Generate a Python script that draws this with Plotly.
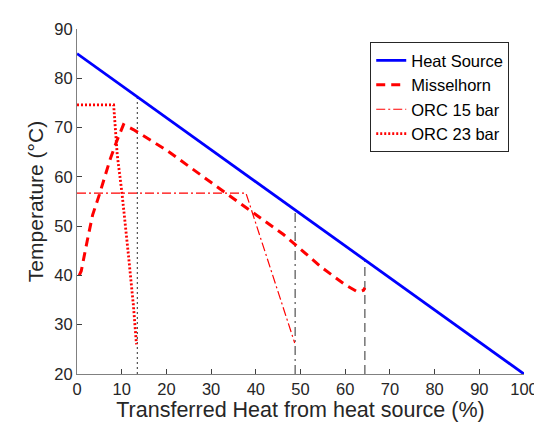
import plotly.graph_objects as go

# Data
hs_x = [0, 100]
hs_y = [85, 20]

mis_x = [0.5, 0.95, 2.26, 3.5, 5.0, 7.5, 9.0, 10.4, 12.6, 19.9, 30.1, 46.2, 54.9, 60.0, 62.5, 63.5, 64.1, 64.4]
mis_y = [40.0, 40.9, 46.9, 52.3, 56.4, 63.8, 67.5, 70.6, 69.6, 65.5, 58.8, 48.3, 41.5, 38.1, 36.8, 36.8, 37.0, 37.5]

orc15_x = [0, 37.8, 48.7]
orc15_y = [56.7, 56.7, 26.3]

orc23_x = [0, 8.2, 9.0, 10.1, 11.5, 12.6, 13.3]
orc23_y = [74.6, 74.6, 64.5, 56.4, 44.2, 34.1, 26.0]

pinch_x = [13.5, 48.8, 64.4]
pinch_dash = ["dot", "dashdot", "dash"]

x_ticks = list(range(0, 101, 10))
y_ticks = list(range(20, 91, 10))

def hs_at(x):
    return hs_y[0] + (hs_y[1] - hs_y[0]) * (x - hs_x[0]) / (hs_x[1] - hs_x[0])

FONT = "Liberation Sans, Arial, Helvetica"

fig = go.Figure()

# gray vertical reference lines (not in legend)
for px, d in zip(pinch_x, pinch_dash):
    fig.add_trace(go.Scatter(x=[px, px], y=[20, hs_at(px)], mode="lines",
                             line=dict(color="rgba(50,50,50,0.85)", width=1.2,
                                       dash=("2px,3px" if d == "dot" else ("9px,4px,2px,4px" if d == "dashdot" else "9px,5px"))),
                             showlegend=False, hoverinfo="skip"))

fig.add_trace(go.Scatter(x=hs_x, y=hs_y, mode="lines", name="Heat Source",
                         line=dict(color="#0000ff", width=2.8)))
fig.add_trace(go.Scatter(x=mis_x, y=mis_y, mode="lines", name="Misselhorn",
                         line=dict(color="#ff0000", width=3, dash="9px,6px")))
fig.add_trace(go.Scatter(x=orc15_x, y=orc15_y, mode="lines", name="ORC 15 bar",
                         line=dict(color="#ff0000", width=1.2, dash="9px,3px,2px,3px")))
fig.add_trace(go.Scatter(x=orc23_x, y=orc23_y, mode="lines", name="ORC 23 bar",
                         line=dict(color="#ff0000", width=2.8, dash="2px,2px")))

axis_common = dict(showgrid=False, zeroline=False, showline=True, linecolor="#808080", linewidth=1,
                   ticks="inside", ticklen=5, tickcolor="#404040", mirror=False,
                   tickfont=dict(family=FONT, size=16.5, color="#262626"))

fig.update_xaxes(range=[0, 100], tickvals=x_ticks, ticktext=[str(v) for v in x_ticks],
                 title=dict(text="Transferred Heat from heat source (%)",
                            font=dict(family=FONT, size=21.5, color="#262626"), standoff=5),
                 **axis_common)
fig.update_yaxes(range=[20, 90], tickvals=y_ticks, ticktext=[str(v) for v in y_ticks],
                 title=dict(text="Temperature (°C)",
                            font=dict(family=FONT, size=21, color="#262626"), standoff=4),
                 **axis_common)

fig.update_layout(
    width=542, height=429,
    margin=dict(l=69, r=16, t=21, b=63),
    plot_bgcolor="white", paper_bgcolor="white",
    font=dict(family=FONT, color="#262626"),
    legend=dict(x=0.656, y=0.962, xanchor="left", yanchor="top",
                bordercolor="#262626", borderwidth=1, bgcolor="white",
                font=dict(family=FONT, size=16.5, color="#000000"), tracegroupgap=0, itemwidth=30),
)

fig.write_html("out.html")
